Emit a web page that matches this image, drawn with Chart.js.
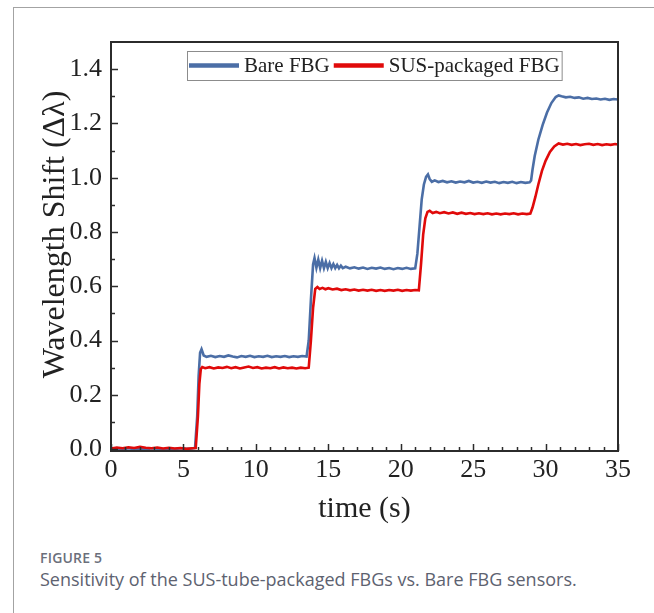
<!DOCTYPE html>
<html>
<head>
<meta charset="utf-8">
<script src="https://cdn.jsdelivr.net/npm/chart.js@4.4.1/dist/chart.umd.min.js"></script>
<style>
  body { margin: 0; background: #fff; }
  #page { position: relative; width: 654px; height: 613px; overflow: hidden; background: #fff; }
  #frame { position: absolute; left: 13px; top: 7px; width: 700px; height: 700px;
           border-left: 1px solid #a3a3a3; border-top: 1px solid #a3a3a3; }
  #shiftGraph { position: absolute; left: 0; top: 0; }
  .fig-label { position: absolute; left: 40px; top: 548px; font: 600 14px "Open Sans"; color: #6b6f7b; letter-spacing: 0.2px; }
  .fig-caption { position: absolute; left: 40px; top: 568px; font: 18px "Open Sans"; color: #5d6270; line-height: 22px; }
</style>
</head>
<body>
<div id="page">
  <div id="frame"></div>
  <canvas id="shiftGraph" width="654" height="540"></canvas>
  <div class="fig-label">FIGURE 5</div>
  <div class="fig-caption">Sensitivity of the SUS-tube-packaged FBGs vs. Bare FBG sensors.</div>
</div>
<script>
// Bare FBG (blue) - time in s, shift
const bareTime = [0, 0.4, 0.8, 1.2, 1.6, 2.0, 2.4, 2.8, 3.2, 3.6, 4.0, 4.4, 4.8, 5.2, 5.6, 5.8,
  5.95, 6.05, 6.15, 6.25, 6.4, 6.6, 6.9, 7.2, 7.5, 7.8, 8.1, 8.4, 8.7, 9.0, 9.3, 9.6, 9.9, 10.2, 10.5, 10.8, 11.1, 11.4, 11.7, 12.0, 12.3, 12.6, 12.9, 13.2, 13.5,
  13.65, 13.8, 13.95, 14.05, 14.18, 14.31, 14.44, 14.57, 14.7, 14.83, 14.96, 15.09, 15.22, 15.35, 15.48, 15.61, 15.74, 15.87, 16.0, 16.2, 16.5, 16.8, 17.1, 17.4, 17.7, 18.0, 18.3, 18.6, 18.9, 19.2, 19.5, 19.8, 20.1, 20.4, 20.7, 21.0,
  21.15, 21.3, 21.45, 21.6, 21.75, 21.88, 22.0, 22.15, 22.35, 22.6, 22.9, 23.2, 23.5, 23.8, 24.1, 24.4, 24.7, 25.0, 25.3, 25.6, 25.9, 26.2, 26.5, 26.8, 27.1, 27.4, 27.7, 28.0, 28.3, 28.6, 28.9,
  29.0, 29.1, 29.25, 29.5, 29.8, 30.1, 30.4, 30.7, 30.9, 31.1, 31.4, 31.7, 32.0, 32.3, 32.6, 32.9, 33.2, 33.5, 33.8, 34.1, 34.4, 34.7, 35.0];
const bareShift = [0.004, 0.001, -0.002, 0.003, 0.000, 0.002, -0.001, 0.003, 0.001, -0.002, 0.002, 0.000, 0.003, 0.001, 0.002, 0.004,
  0.12, 0.27, 0.355, 0.368, 0.345, 0.340, 0.344, 0.339, 0.343, 0.340, 0.345, 0.341, 0.338, 0.343, 0.340, 0.344, 0.339, 0.342, 0.340, 0.344, 0.339, 0.342, 0.340, 0.343, 0.339, 0.342, 0.340, 0.343, 0.341,
  0.40, 0.55, 0.68, 0.704, 0.668, 0.698, 0.667, 0.694, 0.667, 0.690, 0.667, 0.686, 0.667, 0.682, 0.667, 0.679, 0.666, 0.676, 0.667, 0.672, 0.666, 0.670, 0.665, 0.669, 0.664, 0.668, 0.665, 0.669, 0.664, 0.667, 0.663, 0.667, 0.664, 0.668, 0.664, 0.666,
  0.72, 0.82, 0.92, 0.975, 1.003, 1.012, 0.995, 0.985, 0.990, 0.984, 0.988, 0.983, 0.987, 0.982, 0.986, 0.983, 0.988, 0.982, 0.985, 0.981, 0.986, 0.982, 0.985, 0.980, 0.984, 0.981, 0.985, 0.980, 0.984, 0.981, 0.983,
  0.99, 1.03, 1.08, 1.14, 1.195, 1.24, 1.275, 1.297, 1.303, 1.300, 1.296, 1.298, 1.294, 1.296, 1.291, 1.294, 1.290, 1.292, 1.288, 1.291, 1.287, 1.290, 1.288];

// SUS-packaged FBG (red)
const susTime = [0, 0.4, 0.8, 1.2, 1.6, 2.0, 2.4, 2.8, 3.2, 3.6, 4.0, 4.4, 4.8, 5.2, 5.6, 5.85,
  6.0, 6.1, 6.2, 6.3, 6.5, 6.8, 7.1, 7.4, 7.7, 8.0, 8.3, 8.6, 8.9, 9.2, 9.5, 9.8, 10.1, 10.4, 10.7, 11.0, 11.3, 11.6, 11.9, 12.2, 12.5, 12.8, 13.1, 13.4, 13.65,
  13.8, 13.95, 14.1, 14.25, 14.4, 14.6, 14.8, 15.0, 15.3, 15.6, 15.9, 16.2, 16.5, 16.8, 17.1, 17.4, 17.7, 18.0, 18.3, 18.6, 18.9, 19.2, 19.5, 19.8, 20.1, 20.4, 20.7, 21.0, 21.25,
  21.4, 21.55, 21.7, 21.85, 22.0, 22.2, 22.45, 22.7, 23.0, 23.3, 23.6, 23.9, 24.2, 24.5, 24.8, 25.1, 25.4, 25.7, 26.0, 26.3, 26.6, 26.9, 27.2, 27.5, 27.8, 28.1, 28.4, 28.7, 28.95,
  29.1, 29.3, 29.5, 29.75, 30.0, 30.3, 30.6, 30.9, 31.2, 31.5, 31.8, 32.1, 32.4, 32.7, 33.0, 33.3, 33.6, 33.9, 34.2, 34.5, 34.8, 35.0];
const susShift = [0.002, 0.006, 0.003, 0.007, 0.004, 0.008, 0.005, 0.003, 0.006, 0.002, 0.005, 0.002, 0.004, 0.001, 0.003, 0.004,
  0.12, 0.24, 0.295, 0.302, 0.298, 0.302, 0.297, 0.301, 0.299, 0.303, 0.298, 0.302, 0.297, 0.301, 0.304, 0.299, 0.302, 0.297, 0.300, 0.298, 0.302, 0.297, 0.301, 0.298, 0.300, 0.297, 0.300, 0.298, 0.300,
  0.40, 0.52, 0.590, 0.597, 0.590, 0.594, 0.589, 0.593, 0.588, 0.591, 0.586, 0.589, 0.585, 0.588, 0.584, 0.587, 0.584, 0.587, 0.583, 0.586, 0.583, 0.586, 0.584, 0.587, 0.583, 0.586, 0.584, 0.586, 0.585,
  0.68, 0.79, 0.85, 0.874, 0.878, 0.870, 0.874, 0.869, 0.873, 0.868, 0.872, 0.867, 0.871, 0.867, 0.870, 0.866, 0.869, 0.866, 0.869, 0.865, 0.868, 0.865, 0.868, 0.866, 0.869, 0.865, 0.868, 0.866, 0.868,
  0.89, 0.93, 0.975, 1.025, 1.062, 1.095, 1.115, 1.126, 1.122, 1.125, 1.121, 1.124, 1.120, 1.123, 1.125, 1.121, 1.124, 1.120, 1.123, 1.121, 1.124, 1.122];

const xTickValues = [0, 5, 10, 15, 20, 25, 30, 35];
const yTickValues = [0.0, 0.2, 0.4, 0.6, 0.8, 1.0, 1.2, 1.4];
const seriesLabels = ['Bare FBG', 'SUS-packaged FBG'];
const seriesColours = ['#4b6ea6', '#e00a0a'];

const serif = '"Liberation Serif", "Times New Roman", serif';

// inward ticks, plot frame and the boxed legend
const frameAndLegend = {
    id: 'frameAndLegend',
    afterDraw(chart) {
        const c = chart.ctx;
        const area = chart.chartArea;
        const xs = chart.scales.x, ys = chart.scales.y;
        c.save();
        c.strokeStyle = '#2b2b2b';
        c.lineWidth = 1.5;
        // x ticks every 1 s, long every 5 s
        for (let v = 0; v <= 35; v++) {
            const px = Math.round(xs.getPixelForValue(v)) + 0.5;
            const len = v % 5 === 0 ? 7 : 4;
            c.beginPath();
            c.moveTo(px, area.bottom);
            c.lineTo(px, area.bottom - len);
            c.stroke();
        }
        // y ticks every 0.1, long every 0.2
        for (let k = 0; k <= 14; k++) {
            const py = Math.round(ys.getPixelForValue(k / 10)) + 0.5;
            const len = k % 2 === 0 ? 7 : 4;
            c.beginPath();
            c.moveTo(area.left, py);
            c.lineTo(area.left + len, py);
            c.stroke();
        }
        c.lineWidth = 2;
        c.strokeRect(area.left, area.top, area.right - area.left, area.bottom - area.top);

        // legend box
        c.font = '21px ' + serif;
        c.textBaseline = 'middle';
        const lx = area.left + 76, ly = area.top + 9, lh = 29;
        let x = lx + 2;
        const parts = [];
        seriesLabels.forEach((label, i) => {
            parts.push({ x, label, colour: seriesColours[i] });
            x += 50 + 5 + c.measureText(label).width + 4;
        });
        const boxW = x - lx - 2;
        c.lineWidth = 1;
        c.strokeStyle = '#8c8c8c';
        c.fillStyle = '#fff';
        c.fillRect(lx + 0.5, ly + 0.5, boxW, lh);
        c.strokeRect(lx + 0.5, ly + 0.5, boxW, lh);
        parts.forEach(p => {
            c.strokeStyle = p.colour;
            c.lineWidth = 4.5;
            c.beginPath();
            c.moveTo(p.x, ly + lh / 2);
            c.lineTo(p.x + 50, ly + lh / 2);
            c.stroke();
            c.fillStyle = '#222';
            c.fillText(p.label, p.x + 55, ly + lh / 2 + 1);
        });
        c.restore();
    }
};

new Chart(document.getElementById('shiftGraph'), {
    type: 'line',
    data: {
        datasets: [{
            label: seriesLabels[0],
            data: bareTime.map((t, i) => ({ x: t, y: bareShift[i] })),
            borderColor: seriesColours[0],
            borderWidth: 2.6,
            order: 1
        }, {
            label: seriesLabels[1],
            data: susTime.map((t, i) => ({ x: t, y: susShift[i] })),
            borderColor: seriesColours[1],
            borderWidth: 2.6,
            order: 0
        }]
    },
    options: {
        responsive: false,
        animation: false,
        events: [],
        layout: { padding: { left: 32, top: 42, right: 36, bottom: 9 } },
        elements: { point: { radius: 0 }, line: { tension: 0 } },
        scales: {
            x: {
                type: 'linear',
                min: 0,
                max: 35,
                grid: { display: false, drawTicks: false },
                border: { display: false },
                afterBuildTicks: s => { s.ticks = xTickValues.map(v => ({ value: v })); },
                afterFit: s => { s.height = 80; },
                ticks: { autoSkip: false, maxRotation: 0, padding: 4, color: '#222',
                         font: { family: serif, size: 26 } },
                title: { display: true, text: 'time (s)', color: '#222',
                         font: { family: serif, size: 30 } }
            },
            y: {
                min: -0.007,
                max: 1.5,
                grid: { display: false, drawTicks: false },
                border: { display: false },
                afterBuildTicks: s => { s.ticks = yTickValues.map(v => ({ value: v })); },
                afterFit: s => { s.width = 79; },
                ticks: { autoSkip: false, padding: 9, color: '#222',
                         font: { family: serif, size: 26 },
                         callback: v => v.toFixed(1) },
                // leading spaces nudge the title a little above the axis middle, as in the source figure
                title: { display: true, text: '   Wavelength Shift (Δλ)', color: '#222',
                         font: { family: serif, size: 32 } }
            }
        },
        plugins: {
            legend: { display: false },
            tooltip: { enabled: false }
        }
    },
    plugins: [frameAndLegend]
});
</script>
</body>
</html>
